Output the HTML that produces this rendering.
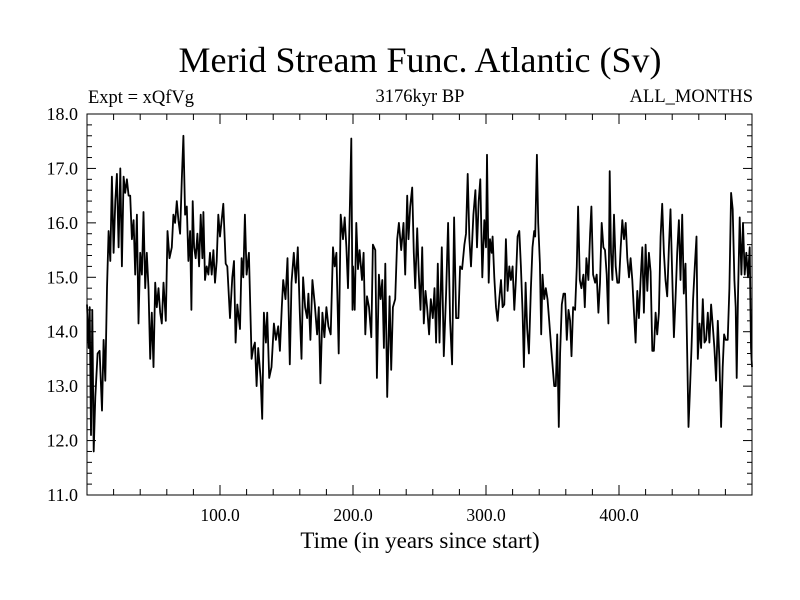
<!DOCTYPE html>
<html><head><meta charset="utf-8"><style>
html,body{margin:0;padding:0;background:#fff;}
svg{display:block;font-family:"Liberation Serif",serif;}
</style></head><body>
<svg id="chart" width="800" height="600" viewBox="0 0 800 600" xmlns="http://www.w3.org/2000/svg">
<rect width="800" height="600" fill="#fff"/>
<text x="420" y="72" font-size="36" text-anchor="middle">Merid Stream Func. Atlantic (Sv)</text>
<text x="88" y="103" font-size="18.5">Expt = xQfVg</text>
<text x="420" y="102" font-size="18.5" text-anchor="middle">3176kyr BP</text>
<text x="753" y="102" font-size="18.5" text-anchor="end">ALL_MONTHS</text>
<text x="420" y="548" font-size="23" text-anchor="middle">Time (in years since start)</text>
<g id="axes"></g>
<g id="series"></g>
</svg>
<script>
const years = [0,1.25,2,3,4,5,6.25,8,9.5,11.25,12.5,13.75,15,16.25,17.5,18.75,20,21.25,22.5,23.75,25,26.25,27.5,28.75,30,31.25,32.5,33.75,35,36.25,37.5,38.75,40,41.25,42.5,43.75,45,46.25,47.5,48.75,50,51.25,52.5,53.75,55,56.25,57.5,59.25,60.5,62,63.75,65,66.25,67.5,68.75,70,71.25,72.5,73.75,75,76.25,77.5,78.5,79.5,80.5,81.75,83,84.25,85.5,86.75,87.5,88.75,90,91.25,92.5,93.75,95,96.25,97.5,98.75,
100,102.5,104.25,105.5,107.5,109.25,110.5,111.75,113,115,116.25,117.5,118.75,120,121.75,123.75,125,126.25,127.5,128.75,130.5,131.75,133,134.5,135.5,137,138.75,140.5,142,143.75,145,146.5,147.5,149.25,150.75,152.5,153.75,155.5,157,158.5,160,161.25,162.5,164,165.5,166.5,168,169.5,171.25,173,174.25,175.5,177,178.5,180,181.5,183.25,185,186.25,187.5,189.25,190.75,192.5,193.75,195,196.25,197.5,198.75,199.6,
200,201.25,202.5,203.75,205,206.75,208,209.25,210.5,212,213.75,215,216.75,218,219.5,220.75,222,223.25,224.25,225.75,227.5,228.75,230,231.75,233.25,234.5,236.25,238,239.25,240.75,241.75,243,244.5,245.75,246.75,248.25,249.5,250.75,252,253.25,254.5,255.75,257.25,258.5,260,261.25,262.5,263.75,265,266.75,268.25,270,271.5,273,274.5,276,277.5,279.25,280.5,282,283.75,285,286.25,287.5,288.75,290.5,292,293.25,294.5,295.75,297.25,298.75,
300,300.75,302,303,304.25,305,306.25,307.5,308.75,310,311.25,312.5,313.75,315,316.25,317.5,318.75,320,321.25,322.5,323.75,325,326.25,327.5,328.5,329.75,331,332.25,333.75,335,336.25,337,338.25,339.25,340.5,341.5,342.5,343.75,345,346.25,347.5,349,350,351.25,352.5,353.5,354.75,355.75,357,358.25,359.5,360.75,362,363.25,364.25,365.5,367,368.25,369.25,370.5,371.75,373.25,374.25,375.5,377,378.25,379.25,380.5,382,383.25,384.5,385.75,387,388.25,389.5,390.75,392,393,394,395,396.25,397.5,398.75,
400,401.25,402.5,403.75,405,406.25,407.5,408.75,410,411.25,412.5,413.75,415,416.25,417.5,418.75,420,421.25,422.5,423.75,425,426.25,427.5,428.75,430,431.25,432.5,433.75,435,436.25,437.5,438.75,440,441.25,442.5,443.75,445,446.25,447.5,448.75,450,451.25,
452.25,453.25,454.5,455.75,457,458.25,459.25,460.5,461.75,463,464.25,465.5,466.75,468,469.25,470.5,471.75,473,474.25,475.5,476.75,478,479,480.25,481.75,483,484.25,485.5,486.75,487.75,488.5,489.5,490.75,492,493.25,494.5,495.75,497,498.25,499.25,500];
const streamValues = [14.5,13.7,14.45,12.1,14.4,11.8,12.8,13.6,13.65,12.55,13.85,13.1,14.8,15.85,15.3,16.85,15.45,16.4,16.9,15.55,17.0,15.2,16.85,16.55,16.8,16.5,16.5,15.7,16.05,15.05,16.15,14.15,15.45,15.05,16.2,14.8,15.45,14.8,13.5,14.35,13.35,14.9,14.45,14.8,14.35,14.15,14.9,14.2,15.85,15.35,15.55,16.15,16.0,16.4,16.05,15.8,16.8,17.6,16.15,16.3,15.3,15.85,14.4,16.4,15.55,15.35,15.8,15.2,16.15,15.35,16.2,14.95,15.2,15.05,15.45,15.05,15.5,14.9,15.3,16.15,
15.75,16.35,15.25,15.2,14.25,15.0,15.3,13.8,14.5,14.05,15.35,15.0,16.15,15.05,15.45,13.5,13.7,13.8,13.0,13.7,13.15,12.4,14.35,13.8,14.35,13.15,13.35,14.15,13.85,14.1,13.65,14.45,14.95,14.6,15.35,13.4,14.9,15.45,14.9,15.55,14.35,13.5,15.0,14.45,14.25,14.7,13.85,14.95,14.5,13.95,14.45,13.05,14.35,13.9,14.45,14.1,13.95,15.55,15.2,15.45,13.6,16.15,15.7,16.1,15.55,14.8,16.15,17.55,14.4,
15.2,14.4,16.0,15.15,15.5,14.95,15.45,13.95,14.65,14.45,13.9,15.6,15.5,13.15,15.05,14.6,14.95,13.7,15.25,12.8,14.65,13.3,14.45,14.6,15.7,16.0,15.5,16.0,15.05,16.5,15.7,16.3,16.65,15.45,14.8,15.9,15.05,14.4,15.55,14.15,14.75,14.45,13.95,14.6,14.25,14.8,13.8,15.25,13.8,15.55,13.55,14.7,16.0,14.2,13.4,16.1,14.25,14.25,15.2,15.15,15.6,15.8,16.9,15.7,15.2,16.15,16.6,15.55,16.4,16.8,15.0,16.05,
15.55,17.25,14.9,15.7,15.45,15.75,15.0,14.45,14.2,14.6,14.95,14.45,14.5,15.7,14.75,15.2,14.95,15.2,14.4,14.95,15.75,15.85,15.2,14.35,13.35,14.9,14.05,13.6,14.8,15.55,15.85,15.75,17.25,16.0,15.25,13.95,15.05,14.6,14.8,14.6,14.2,13.7,13.4,13.0,13.0,13.95,12.25,13.6,14.5,14.7,14.7,13.85,14.4,14.2,13.55,14.45,14.4,15.2,16.3,14.95,14.8,15.05,14.45,15.35,14.95,15.8,16.3,15.05,14.9,15.05,14.35,14.9,16.0,15.55,15.5,15.05,14.15,16.95,15.45,14.95,16.15,15.2,14.9,
14.9,15.55,16.05,15.7,16.0,15.35,15.0,15.35,14.95,14.35,13.8,14.75,14.25,14.95,15.55,14.35,15.6,14.75,15.45,15.1,13.65,13.65,14.35,13.95,14.35,15.75,16.35,15.45,14.95,14.65,15.55,16.25,15.05,13.9,14.6,15.45,16.05,14.95,16.15,14.7,15.25,13.6,
12.25,12.85,13.7,14.6,15.2,15.75,13.5,14.15,13.7,14.6,13.8,13.85,14.35,13.8,14.5,14.1,13.7,13.1,14.2,13.5,12.25,13.35,13.95,13.85,13.85,14.8,16.55,16.25,14.95,14.45,13.15,14.65,16.1,15.05,16.0,15.05,15.45,15.0,15.55,13.7,13.35];
const yTickValues = [11,12,13,14,15,16,17,18];
const yTickLabels = ["11.0","12.0","13.0","14.0","15.0","16.0","17.0","18.0"];
const xTickValues = [100,200,300,400];
const xTickLabels = ["100.0","200.0","300.0","400.0"];

const NS = "http://www.w3.org/2000/svg";
const L = 87, R = 752, T = 114, B = 495;
const xMin = 0, xMax = 500, yMin = 11, yMax = 18;
function xs(v){ return L + (v - xMin) / (xMax - xMin) * (R - L); }
function ys(v){ return B - (v - yMin) / (yMax - yMin) * (B - T); }
function mk(tag, attrs, parent){ const e = document.createElementNS(NS, tag); for (const k in attrs) e.setAttribute(k, attrs[k]); parent.appendChild(e); return e; }

const axes = document.getElementById('axes');
const frame = mk('rect', {x:L, y:T, width:R-L, height:B-T, fill:'none', stroke:'#000', 'stroke-width':1}, axes);



for (let v = yMin; v <= yMax + 1e-9; v += 0.2) {
  const major = Math.abs(v - Math.round(v)) < 1e-6;
  const len = major ? 9 : 5;
  const y = ys(v);
  mk('line', {x1:L, x2:L+len, y1:y, y2:y, stroke:'#000', 'stroke-width':1}, axes);
  mk('line', {x1:R, x2:R-len, y1:y, y2:y, stroke:'#000', 'stroke-width':1}, axes);
}
yTickValues.forEach((v, i) => {
  const t = mk('text', {x:L-9, y:ys(v)+6, 'font-size':18, 'text-anchor':'end'}, axes);
  t.textContent = yTickLabels[i];
  
  
});
for (let v = xMin; v <= xMax; v += 20) {
  const major = v % 100 === 0;
  const len = major ? 10 : 6;
  const x = xs(v);
  mk('line', {x1:x, x2:x, y1:B, y2:B-len, stroke:'#000', 'stroke-width':1}, axes);
  mk('line', {x1:x, x2:x, y1:T, y2:T+len, stroke:'#000', 'stroke-width':1}, axes);
}
xTickValues.forEach((v, i) => {
  const t = mk('text', {x:xs(v), y:521, 'font-size':17.5, 'text-anchor':'middle'}, axes);
  t.textContent = xTickLabels[i];
  
  
});

const series = document.getElementById('series');
const pts = years.map((yr, i) => xs(yr).toFixed(1) + ',' + ys(streamValues[i]).toFixed(1)).join(' ');
const line = mk('polyline', {points:pts, fill:'none', stroke:'#000', 'stroke-width':1.8, 'stroke-linejoin':'round'}, series);


</script>
</body></html>
